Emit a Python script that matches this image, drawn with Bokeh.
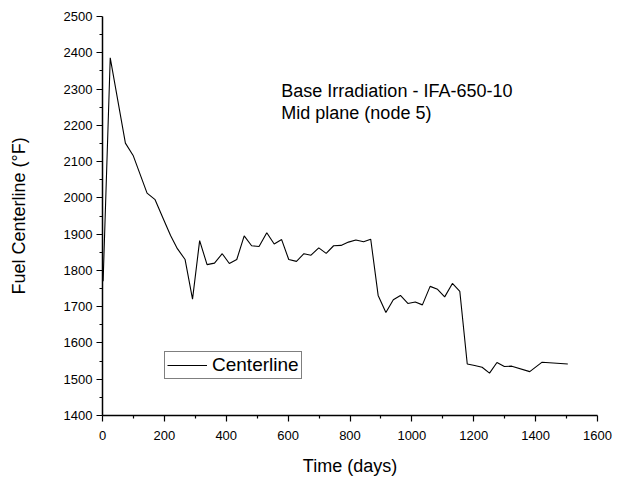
from bokeh.plotting import figure
from bokeh.models import Legend, LegendItem, Label, FixedTicker, Range1d
from bokeh.embed import file_html
from bokeh.resources import INLINE

days = [2, 25, 74, 99, 144, 170, 195, 220, 242, 267, 291, 314, 338, 362, 387, 410, 434,
        458, 482, 506, 531, 555, 579, 602, 627, 651, 674, 699, 723, 747, 771, 795,
        819, 844, 867, 891, 916, 940, 963, 987, 1011, 1034, 1059, 1083, 1106, 1131,
        1155, 1179, 1203, 1227, 1251, 1275, 1299, 1323, 1381, 1421, 1504]
temp = [1770, 2386, 2151, 2117, 2013, 1995, 1945, 1896, 1860, 1830, 1721, 1882, 1816,
        1820, 1846, 1819, 1830, 1895, 1868, 1866, 1904, 1873, 1885, 1830, 1825,
        1846, 1842, 1862, 1847, 1868, 1869, 1878, 1884, 1879, 1886, 1731, 1684,
        1719, 1731, 1709, 1713, 1705, 1756, 1748, 1727, 1764, 1742, 1542, 1538,
        1533, 1517, 1546, 1535, 1536, 1521, 1547, 1542]

x_ticks = [0, 200, 400, 600, 800, 1000, 1200, 1400, 1600]
y_ticks = [1400, 1500, 1600, 1700, 1800, 1900, 2000, 2100, 2200, 2300, 2400, 2500]
x_minor = [100, 300, 500, 700, 900, 1100, 1300, 1500]
y_minor = [1450, 1550, 1650, 1750, 1850, 1950, 2050, 2150, 2250, 2350, 2450]

series_name = "Centerline"
note_lines = ["Base Irradiation - IFA-650-10", "Mid plane (node 5)"]

FONT = "Liberation Sans"

p = figure(width=617, height=481, frame_width=495, frame_height=399,
           output_backend="svg", toolbar_location=None,
           x_range=Range1d(0, 1600), y_range=Range1d(1400, 2500),
           min_border_left=102, min_border_right=20, min_border_top=16,
           min_border_bottom=66)
p.outline_line_color = None
p.grid.visible = False
p.background_fill_color = "white"
p.border_fill_color = "white"

r = p.line(days, temp, line_color="black", line_width=1.1)

for ax in (p.xaxis[0], p.yaxis[0]):
    ax.axis_line_color = "black"
    ax.axis_line_width = 1.5
    ax.major_tick_line_color = "black"
    ax.minor_tick_line_color = "black"
    ax.major_tick_line_width = 1.2
    ax.minor_tick_line_width = 1.2
    ax.major_tick_in = 0
    ax.major_tick_out = 6
    ax.minor_tick_in = 0
    ax.minor_tick_out = 3
    ax.major_label_text_font = FONT
    ax.major_label_text_font_size = "13px"
    ax.major_label_text_color = "black"
    ax.axis_label_text_font = FONT
    ax.axis_label_text_font_size = "18px"
    ax.axis_label_text_font_style = "normal"
    ax.axis_label_text_color = "black"

p.xaxis.ticker = FixedTicker(ticks=x_ticks, minor_ticks=x_minor)
p.yaxis.ticker = FixedTicker(ticks=y_ticks, minor_ticks=y_minor)
p.xaxis.axis_label = "Time (days)"
p.yaxis.axis_label = "Fuel Centerline (°F)"
p.xaxis.major_label_standoff = 9
p.yaxis.major_label_standoff = 4
p.xaxis.axis_label_standoff = 13
p.yaxis.axis_label_standoff = 32

legend = Legend(items=[LegendItem(label=series_name, renderers=[r])],
                location=(62, 36), border_line_color="black", border_line_width=1,
                label_text_font=FONT, label_text_font_size="19px",
                label_text_color="black",
                glyph_width=40, glyph_height=16, padding=2, margin=0,
                label_standoff=5, spacing=0, background_fill_alpha=1)
p.add_layout(legend, "center")

for i, t in enumerate(note_lines):
    p.add_layout(Label(x=578, y=[2294, 2233][i], text=t, text_font=FONT,
                       text_font_size="18px", text_color="black",
                       text_baseline="alphabetic"))

open("out.html", "w").write(file_html(p, INLINE))
